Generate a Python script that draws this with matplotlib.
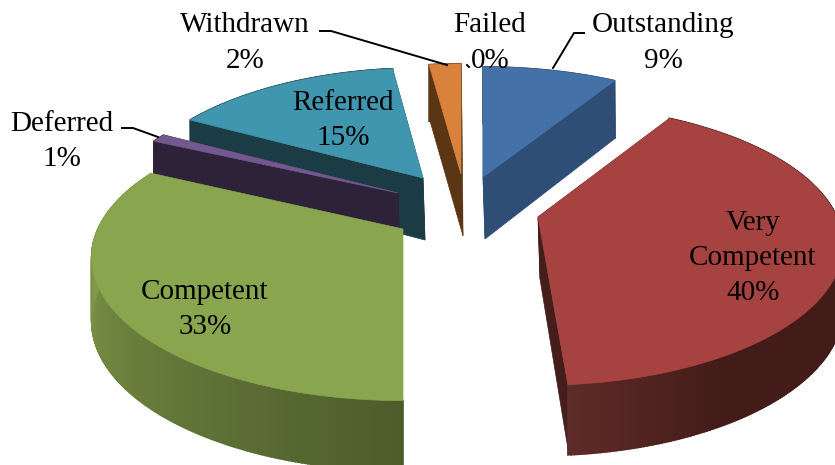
import matplotlib
matplotlib.use('Agg')
import matplotlib.pyplot as plt
import numpy as np

names = ['Outstanding', 'Very\nCompetent', 'Competent', 'Deferred', 'Referred', 'Withdrawn', 'Failed']
shares = [9, 40, 33, 1, 15, 2, 0]

# slice colours: top face, cut faces
top_colors = ['#4472a8', '#a64340', '#89a54e', '#71588f', '#3f96ae', '#d9823b', '#d9823b']
cut_colors = ['#2e4e75', '#451d1a', '#4a5a2a', '#2d2238', '#1b3b45', '#5a3615', '#5a3615']

# pixel position of each exploded slice's tip (this pie is hand-exploded)
tips = [(483, 177), (538, 217), (403, 229), (398, 193), (423, 178), (461, 174), (461, 174)]
draw_order = [0, 4, 5, 3, 1, 2]

# small per-slice fixes, the original render is not a perfect ellipse
scale_x = [0.97, 0.98, 1.0, 0.96, 0.955, 1.0, 1.0]
scale_y = [1.0, 1.02, 1.04, 1.0, 1.0, 1.0, 1.0]
angle_trim = [(0, -1), (-1.4, -1), (3.6, 1), (0, 0), (0, 0), (0, 0), (0, 0)]

# wall shading: angle (deg clockwise from top) -> colour blend 0..1 towards light colour
wall_light = {1: '#5f2c29', 2: '#80994a'}
wall_dark = {1: '#431c19', 2: '#4a5a2a'}
wall_angles = {1: [150, 176.4], 2: [176.4, 270]}
wall_blend = {1: [0, 1], 2: [0, 1]}

# label text, x, y
label_pos = [(663, 43), (753, 258), (205, 309), (62, 141), (343, 120), (245, 43), (490, 43)]
leaders = [
    [(584, 33), (574, 33), (553, 68)],
    [(122, 128), (133, 128), (158, 137)],
    [(320, 31), (331, 31), (447, 65)],
    [(467, 65), (469, 67)],
]

rx, ry, persp = 305.0, 132.0, 0.2


def project(theta, tip, sx, sy):
    x = np.sin(np.radians(theta))
    y = -np.cos(np.radians(theta))
    s = 1.0 / (1.0 - persp * y)
    return tip[0] + rx * sx * x * s, tip[1] + ry * sy * y * s, 29 + 33 * s


def mix(c1, c2, t):
    a = np.array(matplotlib.colors.to_rgb(c1))
    b = np.array(matplotlib.colors.to_rgb(c2))
    return tuple(a + (b - a) * t)


fig = plt.figure(figsize=(8.35, 4.65), dpi=100)
ax = fig.add_axes([0, 0, 1, 1])
ax.set_xlim(0, 835)
ax.set_ylim(465, 0)
ax.axis('off')

edges = np.cumsum([0] + shares) * 3.6

for i in draw_order:
    a0 = edges[i] + angle_trim[i][0]
    a1 = edges[i + 1] + angle_trim[i][1]
    tip = tips[i]
    thetas = np.linspace(a0, a1, max(int(a1 - a0) * 2, 2))
    xs, ys, ds = project(thetas, tip, scale_x[i], scale_y[i])
    tip_d = 29 + 33

    # cut faces, the green slice shows none of them
    for j in [0, -1]:
        if i == 2:
            continue
        ax.fill([tip[0], xs[j], xs[j] + 1, tip[0] + 2],
                [tip[1], ys[j], ys[j] + ds[j], tip[1] + tip_d],
                color=cut_colors[i], lw=0.5, zorder=2)

    # outer wall as thin strips so the shade can change along it
    for k in range(len(thetas) - 1):
        if i in wall_light:
            t = np.interp(thetas[k], wall_angles[i], wall_blend[i])
            c = mix(wall_dark[i], wall_light[i], t)
        else:
            c = cut_colors[i]
        ax.fill([xs[k], xs[k + 1], xs[k + 1], xs[k]],
                [ys[k], ys[k + 1], ys[k + 1] + ds[k + 1], ys[k] + ds[k]],
                color=c, lw=1.2, zorder=2)

    # top face
    ax.fill(np.r_[tip[0], xs], np.r_[tip[1], ys], color=top_colors[i], lw=0.5, zorder=2)

for line in leaders:
    pts = np.array(line)
    ax.plot(pts[:, 0], pts[:, 1], color='black', lw=1.4, zorder=3)

for i in range(len(names)):
    ax.text(label_pos[i][0], label_pos[i][1], '%s\n%d%%' % (names[i], shares[i]),
            ha='center', va='center', family='Liberation Serif', fontsize=21,
            linespacing=1.45, color='black', zorder=4)

fig.savefig('out.png', dpi=100)
